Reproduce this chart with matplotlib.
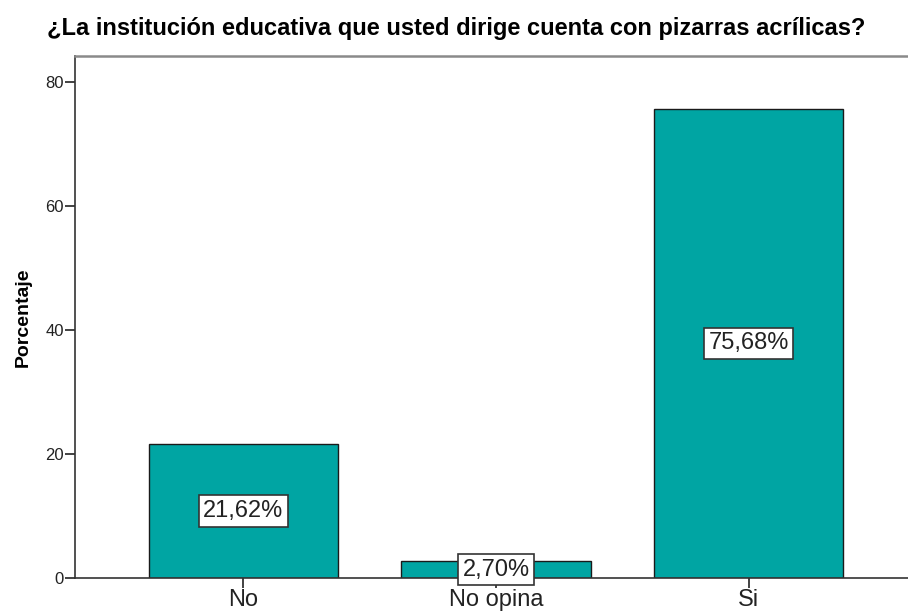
import matplotlib.pyplot as plt

categorias = ['No', 'No opina', 'Si']
porcentajes = [21.62, 2.70, 75.68]
etiquetas = ['21,62%', '2,70%', '75,68%']

plt.rcParams['font.family'] = ['Liberation Sans', 'DejaVu Sans']

fig = plt.figure(figsize=(9.08, 6.11), dpi=100)
# axes runs a bit past the right edge, like the cropped original
ax = fig.add_axes([75/908, 33/611, (917-75)/908, (578-56)/611])

x = range(len(categorias))
ax.bar(x, porcentajes, width=0.75, color='#00a5a3', edgecolor='#1a1a1a', linewidth=1)

for i, (v, t) in enumerate(zip(porcentajes, etiquetas)):
    ax.text(i, v/2, t, ha='center', va='center', fontsize=17, color='#222222',
            bbox=dict(boxstyle='square,pad=0.2', fc='white', ec='#333333', lw=1.2))

ax.set_xlim(-0.667, 2.667)
ax.set_ylim(0, 84.2)
ax.set_yticks([0, 20, 40, 60, 80])
ax.set_xticks(list(x))
ax.set_xticklabels(categorias, fontsize=17)
ax.tick_params(axis='y', length=7, width=1.2, labelsize=12, pad=1, colors='#222222')
ax.tick_params(axis='x', length=7, width=1.2, pad=1, colors='#222222')

ax.spines['left'].set_color('#333333')
ax.spines['left'].set_linewidth(1.2)
ax.spines['bottom'].set_color('#333333')
ax.spines['bottom'].set_linewidth(1.2)
ax.spines['top'].set_color('#8a8a8a')
ax.spines['top'].set_linewidth(1.8)
ax.spines['right'].set_visible(False)

ax.set_ylabel('Porcentaje', fontsize=14, fontweight='bold', labelpad=10)
fig.text(47/908, 1 - 29/611, '¿La institución educativa que usted dirige cuenta con pizarras acrílicas?',
         fontsize=17, fontweight='bold', ha='left', va='center')

fig.savefig('out.png', dpi=100)
